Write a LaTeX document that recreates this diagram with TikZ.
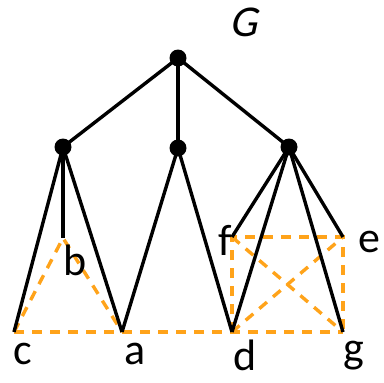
\documentclass[tikz,border=0pt]{standalone}
\usepackage{fontspec}
\setmainfont{Carlito}
\newfontfamily\gslant[FakeSlant=0.22]{Carlito}
\begin{document}
\begin{tikzpicture}[x=1pt,y=-1pt,
  tree/.style={line width=3.4pt,black},
  dot/.style={circle,fill=black,inner sep=0pt,minimum size=17pt},
  aux/.style={line width=3.4pt,color={rgb,255:red,255;green,163;blue,26},dash pattern=on 10pt off 8pt},
  lbl/.style={inner sep=0pt,font=\fontsize{44}{48}\selectfont}]
\useasboundingbox (0,0) rectangle (384,383);
\node[dot] (r) at (178,58) {};
\node[dot] (L) at (63,147) {};
\node[dot] (M) at (178,148) {};
\node[dot] (R) at (289,147) {};
\coordinate (c) at (14,332);
\coordinate (b) at (63,238);
\coordinate (a) at (122,332);
\coordinate (f) at (232,237);
\coordinate (e) at (343,237);
\coordinate (d) at (232,332);
\coordinate (g) at (343,332);
\draw[aux] (c) -- (b) -- (a);
\draw[aux] (c) -- (a) -- (d) -- (g);
\draw[aux] (d) -- (f) -- (e) -- (g);
\draw[aux] (f) -- (g);
\draw[aux] (d) -- (e);
\draw[tree] (r.center) -- (L.center);
\draw[tree] (r.center) -- (M.center);
\draw[tree] (r.center) -- (R.center);
\draw[tree] (L.center) -- (c);
\draw[tree] (L.center) -- (b);
\draw[tree] (L.center) -- (a);
\draw[tree] (M.center) -- (a);
\draw[tree] (M.center) -- (d);
\draw[tree] (R.center) -- (f);
\draw[tree] (R.center) -- (d);
\draw[tree] (R.center) -- (g);
\draw[tree] (R.center) -- (e);
\node[lbl] (Gl) at (243,22) {\gslant G};
\node[lbl] (cl) at (23,354) {c};
\node[lbl] (al) at (135,354) {a};
\node[lbl] (bl) at (75,260) {b};
\node[lbl] (fl) at (225,240) {f};
\node[lbl] (el) at (369,242) {e};
\node[lbl] (dl) at (245,355) {d};
\node[lbl] (gl) at (354,356) {g};
\end{tikzpicture}
\end{document}
